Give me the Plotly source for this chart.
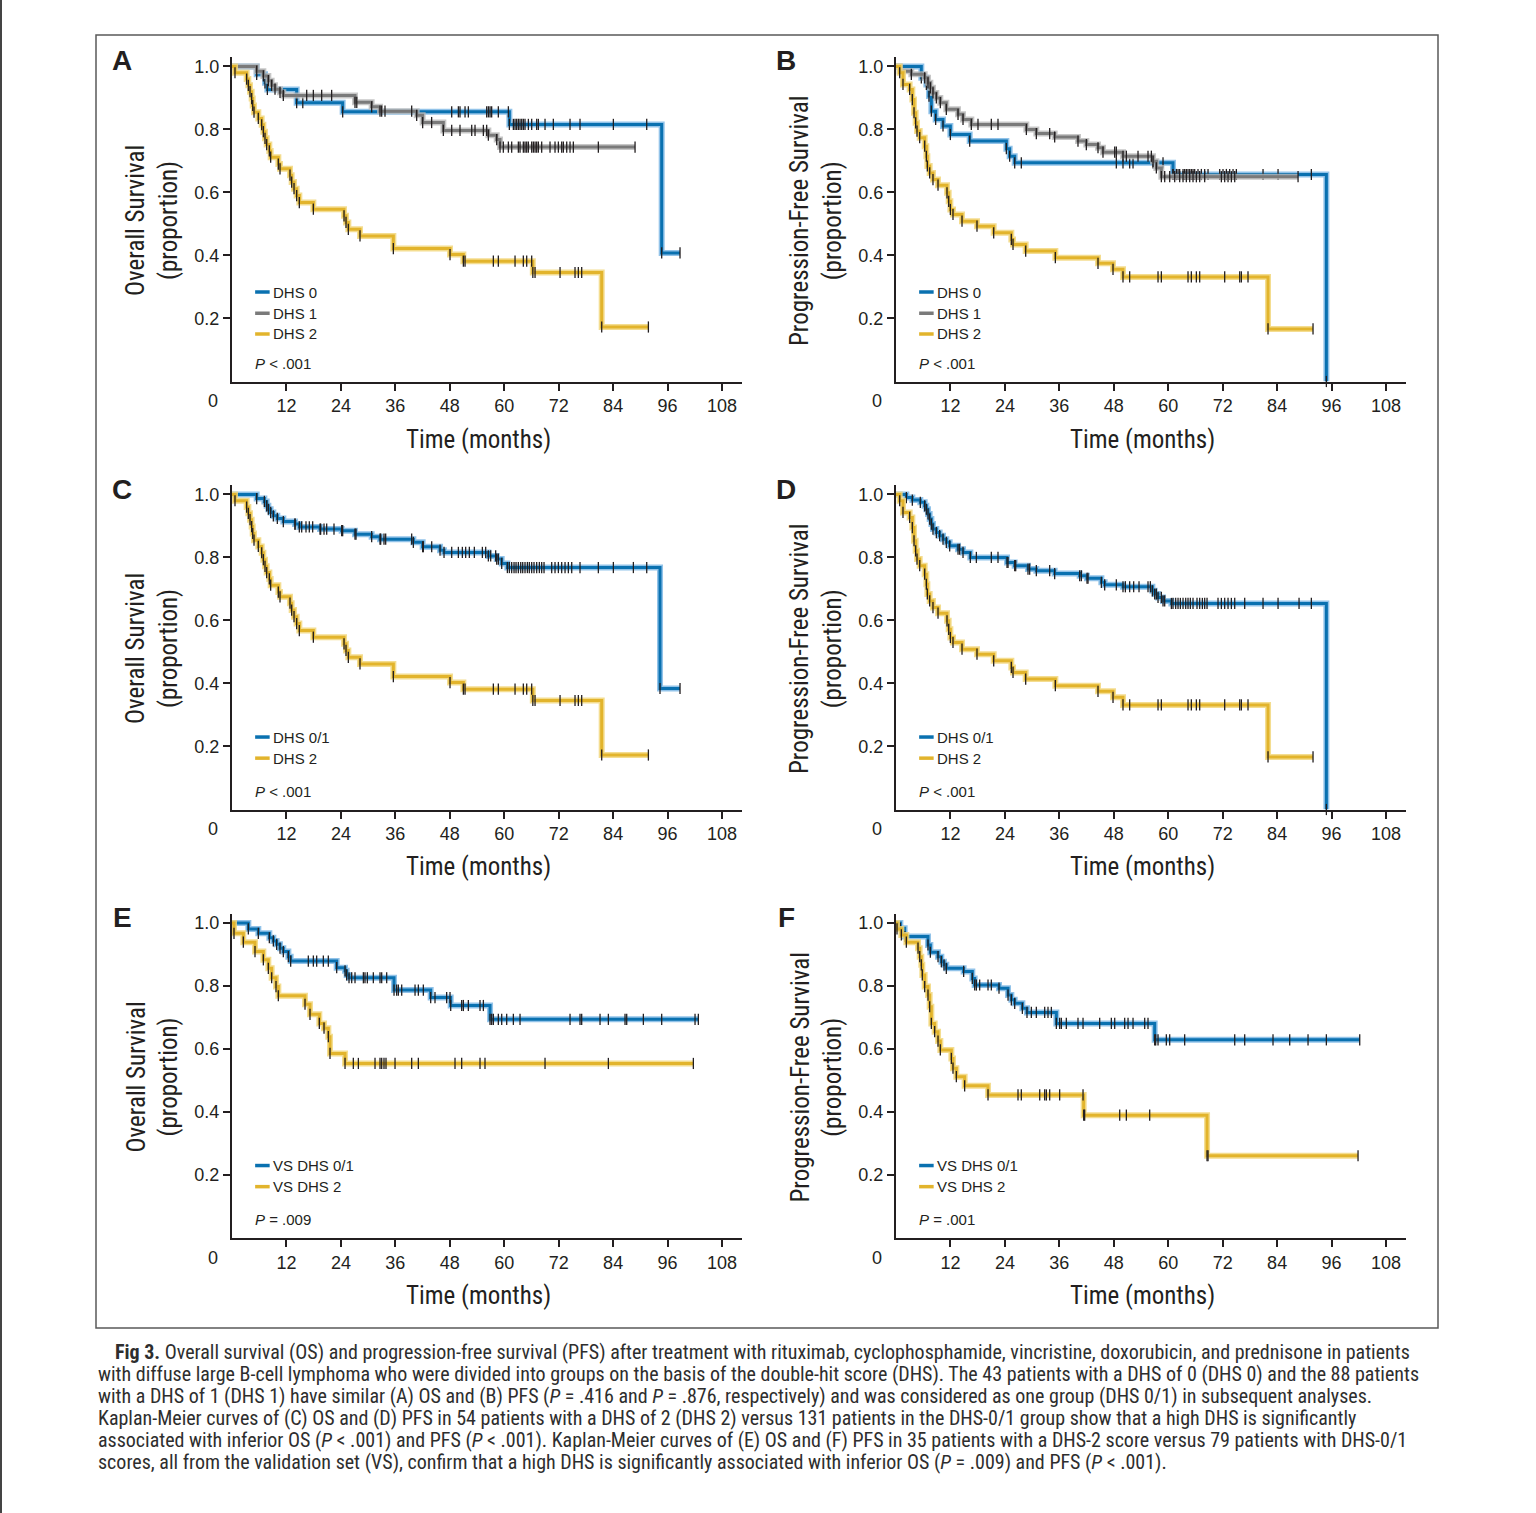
import plotly.graph_objects as go

W, H = 1536, 1513

# ---------------- data (months, survival proportion) ----------------
# Panel A: overall survival
os_dhs0_t = [5.44, 7.27, 7.79, 14.25, 24.39, 61.13, 94.70]
os_dhs0_s = [0.975, 0.948, 0.927, 0.885, 0.856, 0.816, 0.408]
os_dhs0_cens = [15.6, 48.42, 49.89, 50.25, 51.36, 52.09, 56.13, 56.50, 56.87, 57.23, 58.70, 60.91,
                62.01, 62.38, 62.74, 63.11, 63.48, 63.85, 64.21, 64.58, 65.32, 66.05, 67.15, 67.52,
                68.99, 70.82, 74.50, 76.70, 84.05, 91.40, 98.74]

os_dhs1_t = [5.44, 6.91, 8.01, 8.74, 9.48, 10.58, 11.31, 27.11, 30.78, 32.62, 40.70, 42.02, 46.58,
             56.50, 58.34, 59.07]
os_dhs1_s = [0.985, 0.970, 0.955, 0.940, 0.928, 0.918, 0.908, 0.886, 0.872, 0.858, 0.845, 0.822,
             0.797, 0.782, 0.768, 0.744]
os_dhs1_cens = [16.46, 17.93, 19.76, 21.96, 27.5, 32.99, 33.72, 39.6, 44.0, 48.42, 50.25, 52.83,
                53.56, 55.40, 56.13, 59.80, 60.91, 61.64, 63.11, 63.48, 64.21, 64.58, 64.95, 65.32,
                66.05, 66.42, 66.79, 67.15, 67.52, 68.25, 70.09, 71.19, 71.93, 72.66, 73.03, 73.77,
                74.50, 75.23, 80.74, 88.83]

os_dhs2_t = [0.66, 3.23, 3.60, 3.97, 4.33, 4.56, 4.85, 5.80, 6.54, 6.91, 7.27, 7.64, 8.23, 8.52,
             10.21, 10.58, 12.78, 13.15, 13.67, 14.25, 14.84, 17.93, 24.69, 25.13, 25.64, 28.21,
             35.56, 48.05, 50.99, 66.30, 81.48]
os_dhs2_s = [0.980, 0.960, 0.940, 0.920, 0.898, 0.876, 0.855, 0.835, 0.815, 0.793, 0.772, 0.752,
             0.732, 0.712, 0.690, 0.675, 0.655, 0.633, 0.612, 0.590, 0.568, 0.547, 0.526, 0.505,
             0.483, 0.462, 0.422, 0.403, 0.382, 0.346, 0.173]
os_dhs2_cens = [51.36, 57.60, 58.70, 62.38, 64.21, 64.95, 66.05, 66.79, 72.30, 75.60, 76.33, 77.07,
                91.77]

# Panel B: progression-free survival
pfs_dhs0_t = [5.58, 6.69, 7.27, 7.79, 8.74, 10.36, 11.98, 16.24, 24.32, 25.05, 26.16, 61.05, 94.85]
pfs_dhs0_s = [0.964, 0.943, 0.906, 0.858, 0.832, 0.811, 0.784, 0.763, 0.739, 0.715, 0.694, 0.657, 0.0]
pfs_dhs0_cens = [27.62, 48.56, 50.03, 51.50, 52.24, 56.65, 58.85, 61.05, 61.79, 62.16, 62.52, 63.26,
                 63.62, 63.99, 64.36, 64.73, 65.09, 65.46, 65.83, 66.56, 67.30, 68.03, 68.77, 71.34,
                 72.07, 72.81, 73.54, 74.28, 75.01, 80.89, 84.20, 91.54]

pfs_dhs1_t = [0.81, 3.38, 6.32, 7.05, 7.57, 8.15, 8.89, 9.77, 11.09, 13.67, 14.77, 16.60, 28.73,
              30.93, 34.97, 40.11, 41.95, 44.52, 45.62, 50.03, 56.65, 57.38, 58.48]
pfs_dhs1_s = [0.985, 0.975, 0.964, 0.948, 0.932, 0.916, 0.900, 0.885, 0.864, 0.848, 0.832, 0.816,
              0.800, 0.787, 0.776, 0.763, 0.752, 0.742, 0.728, 0.715, 0.699, 0.678, 0.650]
pfs_dhs1_cens = [18.07, 21.01, 22.48, 33.87, 48.20, 48.56, 50.77, 53.34, 55.54, 56.28, 59.22, 60.32,
                 61.42, 62.52, 63.26, 63.99, 64.73, 65.46, 66.20, 66.93, 68.03, 71.71, 72.44, 73.18,
                 73.91, 74.65, 88.61]

pfs_dhs2_t = [0.81, 1.54, 3.01, 3.60, 3.97, 4.33, 4.63, 5.22, 6.32, 6.69, 6.91, 7.42, 8.15, 9.26,
              11.24, 11.61, 11.98, 12.56, 14.55, 17.85, 21.53, 25.42, 25.79, 28.58, 35.12, 44.52,
              47.83, 50.03, 81.99]
pfs_dhs2_s = [0.980, 0.943, 0.927, 0.895, 0.853, 0.821, 0.795, 0.774, 0.747, 0.715, 0.684, 0.662,
              0.641, 0.623, 0.599, 0.572, 0.546, 0.530, 0.509, 0.493, 0.472, 0.451, 0.435, 0.414,
              0.393, 0.375, 0.356, 0.332, 0.167]
pfs_dhs2_cens = [51.50, 57.75, 58.48, 64.36, 65.09, 66.20, 66.93, 72.44, 75.75, 76.12, 77.58, 91.91]

# Panel C: overall survival, DHS 0/1 vs DHS 2
os_dhs01_t = [5.44, 7.13, 7.64, 8.01, 8.52, 9.11, 9.99, 11.31, 13.89, 14.84, 19.40, 24.17, 27.11,
              30.78, 32.62, 39.97, 42.02, 45.85, 46.73, 56.50, 58.34, 59.44, 60.69, 94.33]
os_dhs01_s = [0.987, 0.978, 0.964, 0.953, 0.943, 0.932, 0.924, 0.914, 0.906, 0.897, 0.890, 0.885,
              0.874, 0.866, 0.858, 0.848, 0.834, 0.823, 0.816, 0.805, 0.795, 0.781, 0.768, 0.384]
os_dhs01_cens = [13.89, 15.36, 16.31, 17.04, 17.78, 19.54, 20.28, 20.87, 22.48, 24.39, 27.33, 32.77,
                 33.50, 33.87, 39.60, 42.17, 44.01, 48.42, 49.89, 50.77, 51.50, 52.31, 53.41, 55.18,
                 55.91, 57.01, 58.11, 58.70, 61.13, 61.64, 62.16, 62.60, 63.11, 63.63, 64.07, 64.58,
                 65.10, 65.53, 66.05, 66.56, 67.15, 67.74, 68.25, 68.77, 70.46, 71.19, 71.93, 72.66,
                 73.40, 74.13, 74.87, 76.70, 80.74, 84.05, 88.46, 91.40, 98.74]

# Panel D: progression-free survival, DHS 0/1 vs DHS 2
pfs_dhs01_t = [2.28, 3.60, 5.36, 6.32, 6.69, 7.05, 7.42, 7.79, 8.15, 8.89, 9.62, 10.36, 11.09, 11.83,
               13.67, 14.77, 16.38, 24.47, 26.16, 29.09, 30.93, 34.97, 40.48, 42.10, 45.26, 45.99,
               50.03, 56.50, 57.01, 57.75, 58.85, 60.69, 94.85]
pfs_dhs01_s = [0.990, 0.982, 0.975, 0.964, 0.953, 0.938, 0.922, 0.906, 0.890, 0.879, 0.869, 0.858,
               0.848, 0.837, 0.826, 0.816, 0.800, 0.784, 0.774, 0.763, 0.758, 0.749, 0.742, 0.734,
               0.721, 0.713, 0.707, 0.694, 0.684, 0.673, 0.662, 0.654, 0.0]
pfs_dhs01_cens = [14.03, 17.71, 21.01, 22.48, 24.69, 26.38, 29.46, 33.87, 40.85, 42.32, 48.56, 50.55,
                  51.50, 52.38, 53.56, 55.54, 56.06, 57.38, 58.48, 59.22, 61.05, 61.64, 62.16, 62.67,
                  63.26, 63.85, 64.36, 64.87, 65.46, 66.34, 66.93, 67.52, 68.03, 68.55, 70.97, 71.71,
                  72.44, 73.18, 73.91, 74.65, 76.85, 80.89, 84.20, 88.83, 91.54]

# Panel E: validation set, overall survival
vs_os_dhs01_t = [3.60, 5.80, 8.23, 9.11, 9.84, 10.58, 11.31, 12.42, 12.93, 23.07, 24.91, 25.27,
                 25.79, 35.71, 43.79, 48.20, 56.87]
vs_os_dhs01_s = [0.981, 0.967, 0.953, 0.943, 0.932, 0.920, 0.909, 0.893, 0.879, 0.858, 0.848, 0.835,
                 0.826, 0.787, 0.763, 0.738, 0.694]
vs_os_dhs01_cens = [16.82, 17.93, 18.66, 20.13, 21.23, 26.38, 27.11, 28.95, 29.31, 29.83, 31.15, 32.62,
                    32.99, 34.09, 36.29, 36.66, 37.40, 40.34, 41.07, 42.17, 44.74, 47.31, 48.05, 50.62,
                    50.99, 52.09, 54.66, 55.40, 57.23, 57.60, 58.70, 59.44, 60.54, 62.01, 63.48, 74.50,
                    76.70, 77.07, 81.11, 82.95, 86.62, 86.99, 90.66, 94.70, 102.05, 102.78]

vs_os_dhs2_t = [0.44, 2.50, 5.07, 6.91, 8.01, 8.74, 9.70, 10.21, 16.09, 17.19, 19.25, 20.28, 21.23,
                21.60, 24.91]
vs_os_dhs2_s = [0.967, 0.939, 0.909, 0.883, 0.856, 0.826, 0.798, 0.769, 0.742, 0.710, 0.681, 0.666,
                0.639, 0.586, 0.554]
vs_os_dhs2_cens = [26.74, 27.85, 31.52, 32.62, 32.99, 33.50, 33.94, 35.93, 39.60, 41.07, 49.15, 50.62,
                   54.66, 55.76, 68.99, 82.95, 101.68]

# Panel F: validation set, progression-free survival
vs_pfs_dhs01_t = [0.96, 1.91, 7.05, 7.57, 9.26, 9.99, 10.58, 11.09, 14.91, 16.82, 17.34, 22.70, 24.69,
                  25.42, 26.16, 27.85, 28.87, 35.34, 57.01]
vs_pfs_dhs01_s = [0.983, 0.957, 0.930, 0.907, 0.893, 0.877, 0.867, 0.856, 0.846, 0.824, 0.803, 0.793,
                  0.771, 0.756, 0.745, 0.729, 0.716, 0.681, 0.629]
vs_pfs_dhs01_cens = [17.71, 18.44, 20.28, 21.01, 29.83, 30.93, 32.77, 33.50, 34.24, 36.07, 36.44, 37.54,
                     40.11, 41.22, 44.89, 47.46, 48.20, 50.40, 51.14, 52.24, 54.81, 55.54, 57.23, 57.75,
                     59.58, 60.32, 63.62, 74.65, 76.85, 83.09, 86.77, 90.81, 94.85, 102.20]

vs_pfs_dhs2_t = [0.22, 1.18, 2.28, 4.85, 5.22, 5.58, 5.80, 6.32, 7.05, 7.42, 7.79, 8.52, 9.26, 9.77,
                 12.20, 12.56, 13.30, 15.13, 20.28, 41.36, 68.55]
vs_pfs_dhs2_s = [0.981, 0.962, 0.939, 0.920, 0.893, 0.867, 0.835, 0.798, 0.771, 0.734, 0.681, 0.655,
                 0.625, 0.597, 0.570, 0.539, 0.512, 0.483, 0.454, 0.390, 0.261]
vs_pfs_dhs2_cens = [26.89, 27.62, 31.67, 32.77, 33.14, 33.87, 36.07, 41.22, 41.58, 49.30, 50.77, 55.91,
                    68.77, 101.83]

x_ticks = [12, 24, 36, 48, 60, 72, 84, 96, 108]
y_ticks = [0.2, 0.4, 0.6, 0.8, 1.0]

# ---------------- styling ----------------
BLUE, GRAY, YELLOW = "#0a71b0", "#7a7a7a", "#e2b42c"
HALO = {BLUE: "rgba(110,175,225,0.75)", GRAY: "rgba(185,185,185,0.8)", YELLOW: "rgba(242,215,125,0.85)"}
INK = "#231f20"
NARROW = "Liberation Sans Narrow, Arial Narrow, Roboto Condensed, DejaVu Sans Condensed, sans-serif"
SANS = "Liberation Sans, Arial, Helvetica, sans-serif"

XMAX, YMAX = 112.4, 1.03
left_x = (232, 742)
right_x = (896, 1406)
rows = [(57, 381.5), (485, 809.5), (913.5, 1238)]  # (top px, bottom px)


def pxx(x):
    return x / W


def pxy(y):
    return 1 - y / H


fig = go.Figure()
layout_axes = {}

panels = [
    ("A", 0, left_x, "Overall Survival<br>(proportion)",
     [(os_dhs0_t, os_dhs0_s, os_dhs0_cens, BLUE, "DHS 0"),
      (os_dhs1_t, os_dhs1_s, os_dhs1_cens, GRAY, "DHS 1"),
      (os_dhs2_t, os_dhs2_s, os_dhs2_cens, YELLOW, "DHS 2")], "<i>P</i> < .001"),
    ("B", 0, right_x, "Progression-Free Survival<br>(proportion)",
     [(pfs_dhs0_t, pfs_dhs0_s, pfs_dhs0_cens, BLUE, "DHS 0"),
      (pfs_dhs1_t, pfs_dhs1_s, pfs_dhs1_cens, GRAY, "DHS 1"),
      (pfs_dhs2_t, pfs_dhs2_s, pfs_dhs2_cens, YELLOW, "DHS 2")], "<i>P</i> < .001"),
    ("C", 1, left_x, "Overall Survival<br>(proportion)",
     [(os_dhs01_t, os_dhs01_s, os_dhs01_cens, BLUE, "DHS 0/1"),
      (os_dhs2_t, os_dhs2_s, os_dhs2_cens, YELLOW, "DHS 2")], "<i>P</i> < .001"),
    ("D", 1, right_x, "Progression-Free Survival<br>(proportion)",
     [(pfs_dhs01_t, pfs_dhs01_s, pfs_dhs01_cens, BLUE, "DHS 0/1"),
      (pfs_dhs2_t, pfs_dhs2_s, pfs_dhs2_cens, YELLOW, "DHS 2")], "<i>P</i> < .001"),
    ("E", 2, left_x, "Overall Survival<br>(proportion)",
     [(vs_os_dhs01_t, vs_os_dhs01_s, vs_os_dhs01_cens, BLUE, "VS DHS 0/1"),
      (vs_os_dhs2_t, vs_os_dhs2_s, vs_os_dhs2_cens, YELLOW, "VS DHS 2")], "<i>P</i> = .009"),
    ("F", 2, right_x, "Progression-Free Survival<br>(proportion)",
     [(vs_pfs_dhs01_t, vs_pfs_dhs01_s, vs_pfs_dhs01_cens, BLUE, "VS DHS 0/1"),
      (vs_pfs_dhs2_t, vs_pfs_dhs2_s, vs_pfs_dhs2_cens, YELLOW, "VS DHS 2")], "<i>P</i> = .001"),
]


def surv_at(t, s, x):
    v = 1.0
    for ti, si in zip(t, s):
        if ti <= x:
            v = si
    return v


annotations = []
shapes = []

for i, (letter, r, xd, ytitle, curves, ptext) in enumerate(panels, start=1):
    top, bot = rows[r]
    xa = "x" if i == 1 else f"x{i}"
    ya = "y" if i == 1 else f"y{i}"
    layout_axes["xaxis" if i == 1 else f"xaxis{i}"] = dict(
        domain=[pxx(xd[0]), pxx(xd[1])], range=[0, XMAX], anchor=ya,
        tickvals=x_ticks, ticks="outside", ticklen=7, tickwidth=1.5, tickcolor=INK,
        showline=True, linewidth=2, linecolor=INK, showgrid=False, zeroline=False,
        tickfont=dict(family=SANS, size=18, color=INK), fixedrange=True)
    layout_axes["yaxis" if i == 1 else f"yaxis{i}"] = dict(
        domain=[pxy(bot), pxy(top)], range=[0, YMAX], anchor=xa,
        tickvals=y_ticks, tickformat=".1f", ticks="outside", ticklen=7, tickwidth=1.5, tickcolor=INK,
        showline=True, linewidth=2, linecolor=INK, showgrid=False, zeroline=False,
        tickfont=dict(family=SANS, size=18, color=INK), fixedrange=True)

    for (t, s, cens, col, name) in curves:
        end = max(t[-1], max(cens))
        xs = [0] + list(t)
        ys = [1.0] + list(s)
        if end > t[-1]:
            xs.append(end)
            ys.append(s[-1])
        fig.add_trace(go.Scatter(x=xs, y=ys, mode="lines", line=dict(color=HALO[col], width=6, shape="hv"),
                                 xaxis=xa, yaxis=ya, showlegend=False, hoverinfo="skip", cliponaxis=False))
        fig.add_trace(go.Scatter(x=xs, y=ys, mode="lines", line=dict(color=col, width=3, shape="hv"),
                                 xaxis=xa, yaxis=ya, showlegend=False, name=name, cliponaxis=False))
        # tick marks at events and at censored observations
        mx = list(t) + list(cens)
        my = list(s) + [surv_at(t, s, c) for c in cens]
        fig.add_trace(go.Scatter(x=mx, y=my, mode="markers",
                                 marker=dict(symbol="line-ns", size=8, line=dict(width=1.3, color=INK)),
                                 xaxis=xa, yaxis=ya, showlegend=False, hoverinfo="skip", cliponaxis=False))

    # custom legend
    ys_leg = [0.284, 0.217, 0.151] if len(curves) == 3 else [0.230, 0.163]
    for (t, s, cens, col, name), yl in zip(curves, ys_leg):
        shapes.append(dict(type="line", xref=xa, yref=ya, x0=5.1, x1=8.3, y0=yl, y1=yl,
                           line=dict(color=col, width=3.5)))
        annotations.append(dict(xref=xa, yref=ya, x=8.7, y=yl, text=name, showarrow=False,
                                xanchor="left", yanchor="middle",
                                font=dict(family=SANS, size=15, color=INK)))
    annotations.append(dict(xref=xa, yref=ya, x=4.6, y=0.058, text=ptext, showarrow=False,
                            xanchor="left", yanchor="middle", font=dict(family=SANS, size=15, color=INK)))

    # origin "0" label
    annotations.append(dict(xref="paper", yref="paper", x=pxx(xd[0] - 19), y=pxy(bot + 19.5), text="0",
                            showarrow=False, xanchor="center", yanchor="middle",
                            font=dict(family=SANS, size=18, color=INK)))
    # axis titles
    annotations.append(dict(xref="paper", yref="paper", x=pxx(xd[0] + 246), y=pxy(bot + 57.5),
                            text="Time (months)", showarrow=False, xanchor="center", yanchor="middle",
                            font=dict(family=NARROW, size=25, color=INK)))
    annotations.append(dict(xref="paper", yref="paper", x=pxx(xd[0] - 80), y=pxy(bot - 160.5),
                            text=ytitle, showarrow=False, xanchor="center", yanchor="middle", textangle=-90,
                            font=dict(family=NARROW, size=25, color=INK)))
    # panel letter
    annotations.append(dict(xref="paper", yref="paper", x=pxx(xd[0] - 110), y=pxy(top + 4),
                            text=f"<b>{letter}</b>", showarrow=False, xanchor="center", yanchor="middle",
                            font=dict(family=SANS, size=28, color=INK)))

# caption
caption_lines = [
    "<b>Fig 3.</b> Overall survival (OS) and progression-free survival (PFS) after treatment with rituximab, cyclophosphamide, vincristine, doxorubicin, and prednisone in patients",
    "with diffuse large B-cell lymphoma who were divided into groups on the basis of the double-hit score (DHS). The 43 patients with a DHS of 0 (DHS 0) and the 88 patients",
    "with a DHS of 1 (DHS 1) have similar (A) OS and (B) PFS (<i>P</i> = .416 and <i>P</i> = .876, respectively) and was considered as one group (DHS 0/1) in subsequent analyses.",
    "Kaplan-Meier curves of (C) OS and (D) PFS in 54 patients with a DHS of 2 (DHS 2) versus 131 patients in the DHS-0/1 group show that a high DHS is significantly",
    "associated with inferior OS (<i>P</i> < .001) and PFS (<i>P</i> < .001). Kaplan-Meier curves of (E) OS and (F) PFS in 35 patients with a DHS-2 score versus 79 patients with DHS-0/1",
    "scores, all from the validation set (VS), confirm that a high DHS is significantly associated with inferior OS (<i>P</i> = .009) and PFS (<i>P</i> < .001).",
]
for k, line in enumerate(caption_lines):
    annotations.append(dict(xref="paper", yref="paper", x=pxx(113 if k == 0 else 96), y=pxy(1352 + 22 * k),
                            text=line, showarrow=False, xanchor="left", yanchor="middle",
                            font=dict(family=NARROW, size=20, color="#2e2e2e")))

# frame around the figure and page edge
shapes.append(dict(type="rect", xref="paper", yref="paper", x0=pxx(96), x1=pxx(1438), y0=pxy(1328), y1=pxy(35),
                   line=dict(color="#5a5a5a", width=1.5)))
shapes.append(dict(type="line", xref="paper", yref="paper", x0=pxx(1), x1=pxx(1), y0=0, y1=1,
                   line=dict(color="#444444", width=2)))

fig.update_layout(width=W, height=H, margin=dict(l=0, r=0, t=0, b=0), paper_bgcolor="white",
                  plot_bgcolor="white", showlegend=False, annotations=annotations, shapes=shapes,
                  **layout_axes)

fig.write_html("out.html", config={"displayModeBar": False},
               post_script="document.body.style.margin='0';document.body.style.overflow='hidden';")
